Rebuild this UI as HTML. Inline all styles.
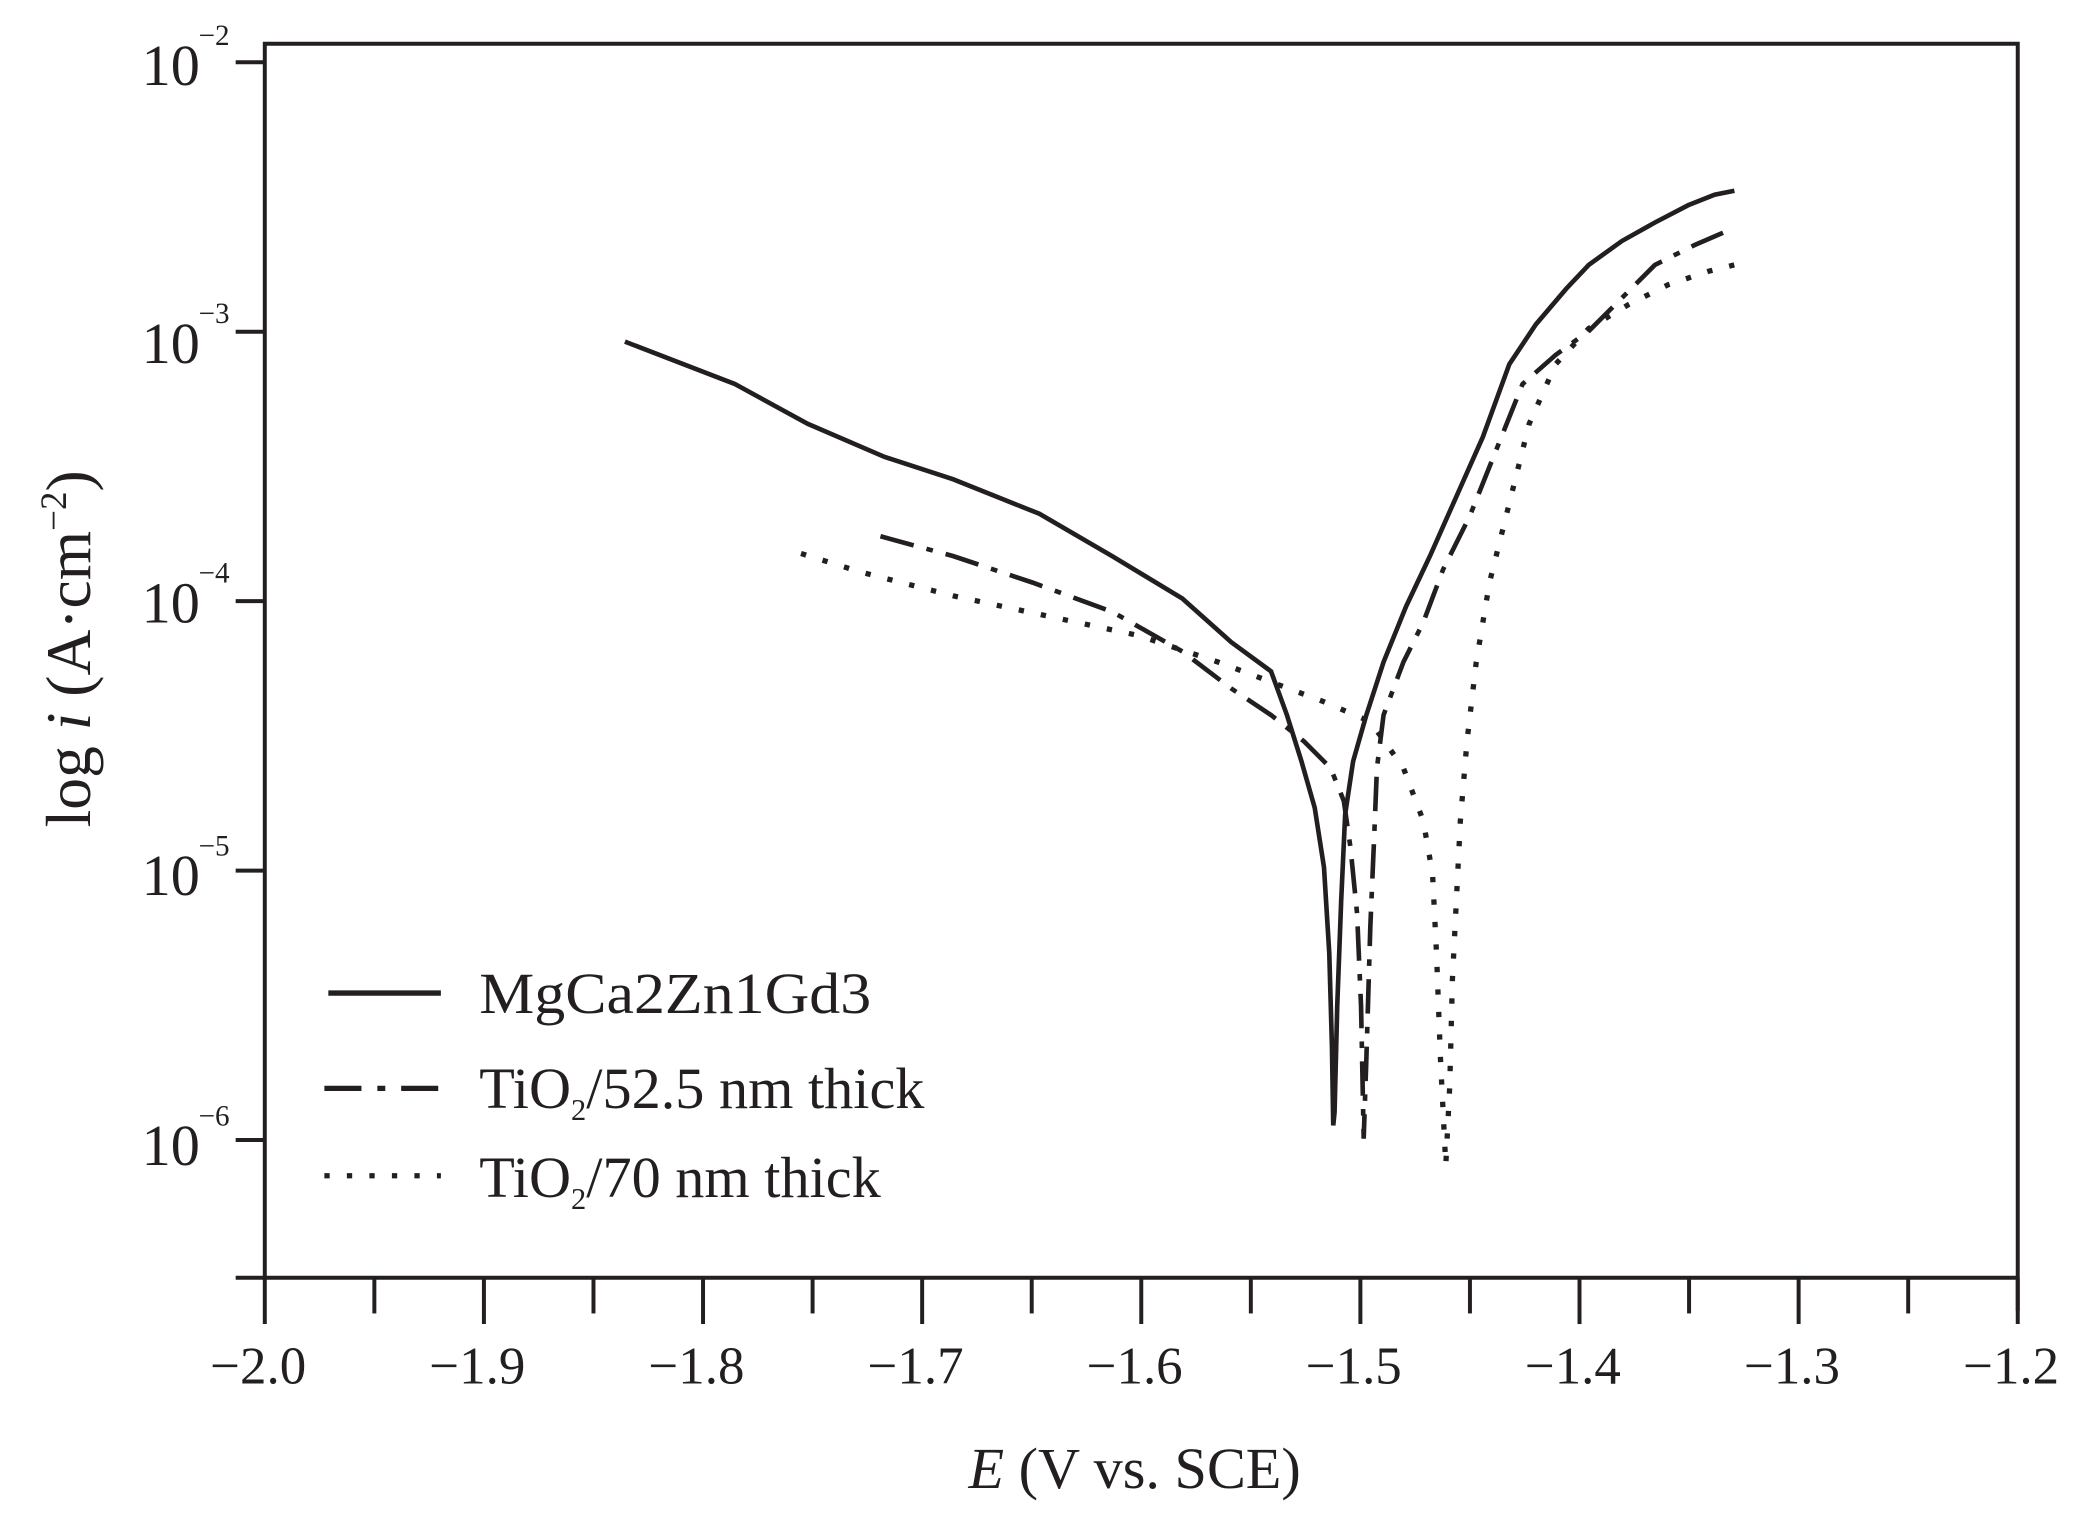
<!DOCTYPE html>
<html><head><meta charset="utf-8"><style>html,body{margin:0;padding:0;background:#fff}svg{display:block}</style></head>
<body>
<svg width="2076" height="1528" viewBox="0 0 1568 1154" xmlns="http://www.w3.org/2000/svg" font-family="Liberation Serif, serif" fill="#231f20">
<g stroke="#231f20" stroke-width="3" fill="none">
<polyline points="200,965 200,33 1524,33 1524,990"/>
<line x1="178" y1="965" x2="1524" y2="965"/>
<line x1="178" y1="47" x2="200" y2="47"/>
<line x1="178" y1="250.5" x2="200" y2="250.5"/>
<line x1="178" y1="454" x2="200" y2="454"/>
<line x1="178" y1="657.5" x2="200" y2="657.5"/>
<line x1="178" y1="861" x2="200" y2="861"/>
<line x1="200" y1="965" x2="200" y2="1000"/>
<line x1="365.5" y1="965" x2="365.5" y2="1000"/>
<line x1="531" y1="965" x2="531" y2="1000"/>
<line x1="696.5" y1="965" x2="696.5" y2="1000"/>
<line x1="862" y1="965" x2="862" y2="1000"/>
<line x1="1027.5" y1="965" x2="1027.5" y2="1000"/>
<line x1="1193" y1="965" x2="1193" y2="1000"/>
<line x1="1358.5" y1="965" x2="1358.5" y2="1000"/>
<line x1="1524" y1="965" x2="1524" y2="1000"/>
<line x1="282.75" y1="965" x2="282.75" y2="992"/>
<line x1="448.25" y1="965" x2="448.25" y2="992"/>
<line x1="613.75" y1="965" x2="613.75" y2="992"/>
<line x1="779.25" y1="965" x2="779.25" y2="992"/>
<line x1="944.75" y1="965" x2="944.75" y2="992"/>
<line x1="1110.25" y1="965" x2="1110.25" y2="992"/>
<line x1="1275.75" y1="965" x2="1275.75" y2="992"/>
<line x1="1441.25" y1="965" x2="1441.25" y2="992"/>
</g>
<g font-size="40" text-anchor="middle">
<text x="195" y="1045">−2.0</text><text x="360.5" y="1045">−1.9</text><text x="526" y="1045">−1.8</text><text x="691.5" y="1045">−1.7</text><text x="857" y="1045">−1.6</text><text x="1022.5" y="1045">−1.5</text><text x="1188" y="1045">−1.4</text><text x="1353.5" y="1045">−1.3</text><text x="1519" y="1045">−1.2</text>
</g>
<g font-size="44" text-anchor="end">
<text x="151" y="64">10</text><text x="151" y="274">10</text><text x="151" y="470">10</text><text x="151" y="676">10</text><text x="151" y="880">10</text>
</g>
<g font-size="22">
<text x="150" y="34">−2</text><text x="150" y="244">−3</text><text x="150" y="440">−4</text><text x="150" y="646">−5</text><text x="150" y="850">−6</text>
</g>
<text x="857" y="1124" font-size="44" text-anchor="middle"><tspan font-style="italic">E</tspan> (V vs. SCE)</text>
<text transform="translate(68,490) rotate(-90)" font-size="48" text-anchor="middle">log <tspan font-style="italic">i</tspan> (A·cm<tspan font-size="28" dy="-18">−2</tspan><tspan dy="18">)</tspan></text>
<g fill="none" stroke="#231f20">
<polyline stroke-width="3.5" points="472,258 555,290 610,320 668,345 720,362 785,388 840,420 893,452 930,485 960,507 972,540 983,575 993,610 1000,655 1004,720 1006,790 1007,850 1008,840 1010,760 1013,680 1016,615 1022,575 1032,540 1045,500 1062,458 1080,420 1100,375 1120,330 1140,275 1160,245 1183,218 1200,200 1225,182 1250,168 1275,155 1295,147 1310,144"/>
<polyline stroke-width="3.5" stroke-dasharray="26,10,5,10" points="665,405 720,420 780,440 840,462 893,492 930,520 960,540 985,560 1005,580 1015,605 1020,640 1025,690 1028,760 1030,860 1032,800 1035,700 1038,630 1040,580 1045,540 1060,500 1075,470 1090,430 1110,390 1130,340 1150,290 1175,268 1200,250 1225,225 1250,200 1280,185 1310,172"/>
<polyline stroke-width="4" stroke-dasharray="4,13" points="605,418 650,432 720,450 790,465 860,480 920,500 960,515 1000,530 1035,545 1060,580 1075,620 1082,660 1085,720 1088,800 1092,880 1095,820 1097,740 1100,680 1103,620 1108,560 1115,500 1125,440 1140,380 1155,320 1175,275 1200,248 1230,230 1260,215 1290,205 1310,200"/>
<line x1="248" y1="750" x2="333" y2="750" stroke-width="4"/>
<line x1="245" y1="822" x2="333" y2="822" stroke-width="4" stroke-dasharray="28,12,6,12"/>
<line x1="245" y1="888" x2="333" y2="888" stroke-width="4" stroke-dasharray="4,13"/>
</g>
<g font-size="44">
<text x="362" y="765" textLength="296" lengthAdjust="spacingAndGlyphs">MgCa2Zn1Gd3</text>
<text x="362" y="837">TiO<tspan font-size="23" dy="9">2</tspan><tspan dy="-9">/52.5 nm thick</tspan></text>
<text x="362" y="904">TiO<tspan font-size="23" dy="9">2</tspan><tspan dy="-9">/70 nm thick</tspan></text>
</g>
</svg>
</body></html>
